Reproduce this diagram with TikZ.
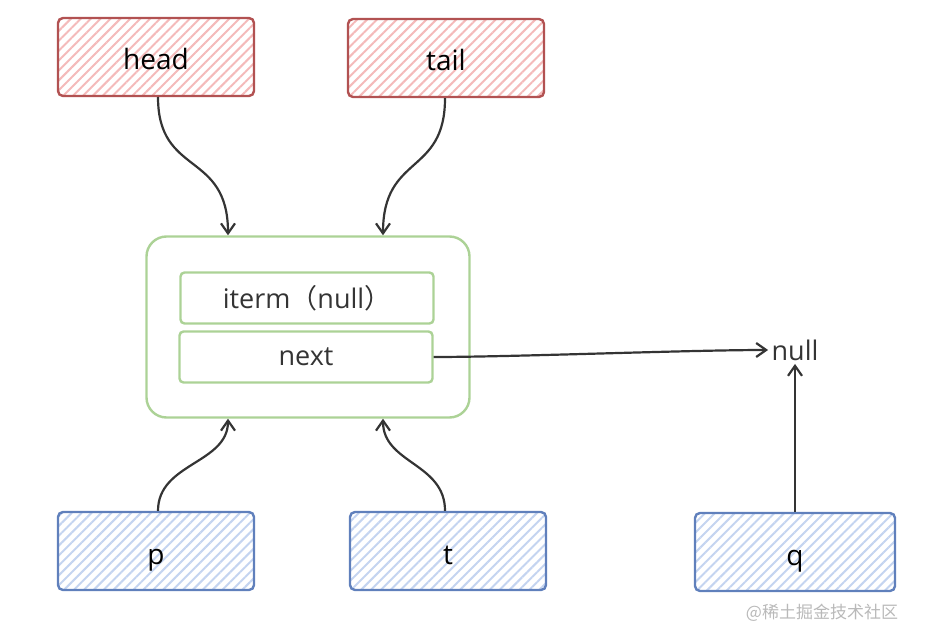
\documentclass[tikz,border=0pt]{standalone}
\usepackage{fontspec}
\setmainfont{Open Sans}
\newfontfamily\cjk{Noto Sans CJK SC}
\usetikzlibrary{arrows.meta,patterns.meta}
\definecolor{headred}{RGB}{178,82,82}
\definecolor{headpink}{RGB}{244,186,186}
\definecolor{ptrblue}{RGB}{96,128,188}
\definecolor{ptrsky}{RGB}{196,212,240}
\definecolor{nodegreen}{RGB}{172,210,150}
\definecolor{ink}{RGB}{52,52,52}
\begin{document}
\begin{tikzpicture}[x=1pt, y=-1pt,
  hatchbox/.style={line width=2.4pt, rounded corners=5pt, minimum width=196pt, minimum height=78pt, text height=26pt, text depth=0pt, font=\fontsize{28}{32}\selectfont},
  redbox/.style={hatchbox, draw=headred, pattern={Lines[angle=45,distance=7pt,line width=2pt]}, pattern color=headpink},
  bluebox/.style={hatchbox, draw=ptrblue, pattern={Lines[angle=45,distance=7pt,line width=2pt]}, pattern color=ptrsky},
  field/.style={draw=nodegreen, line width=2.4pt, rounded corners=4pt, minimum width=253pt, minimum height=51pt, text=ink, font=\fontsize{27}{31}\selectfont},
  link/.style={draw=ink, line width=2.2pt, -{Straight Barb[length=10pt,width=14pt,line width=2.2pt]}}]
\useasboundingbox (0,0) rectangle (928,644);
% pointers
\node[redbox] (head) at (156,57) {head};
\node[redbox] (tail) at (446,58) {tail};
\node[bluebox] (p) at (156,551) {p};
\node[bluebox] (t) at (448,551) {t};
\node[bluebox, minimum width=200pt] (q) at (795,552) {q};
% list node
\node[draw=nodegreen, line width=2.4pt, rounded corners=20pt, minimum width=323pt, minimum height=181pt] (frame) at (308,327) {};
\node[field] (item) at (307,298) {iterm{\cjk （}null{\cjk ）}};
\node[field] (next) at (306,357) {next};
\node[text=ink, font=\fontsize{27}{31}\selectfont] (null) at (795,350) {null};
\node[text=gray!55, font=\cjk\fontsize{17}{20}\selectfont] (mark) at (822,613) {@稀土掘金技术社区};
% arrows
\draw[link] ([xshift=2pt]head.south) .. controls +(0,80) and +(0,-85) .. ([xshift=-80pt]frame.north);
\draw[link] ([xshift=-1pt]tail.south) .. controls +(0,78) and +(0,-82) .. ([xshift=75pt]frame.north);
\draw[link] ([xshift=2pt]p.north) .. controls +(0,-48) and +(0,45) .. ([xshift=-80pt]frame.south);
\draw[link] ([xshift=-3pt]t.north) .. controls +(0,-48) and +(0,45) .. ([xshift=75pt]frame.south);
\draw[link] (next.east) .. controls +(80,0) and +(-80,0) .. (null.west);
\draw[link] (q.north) -- (null.south);
\end{tikzpicture}
\end{document}
